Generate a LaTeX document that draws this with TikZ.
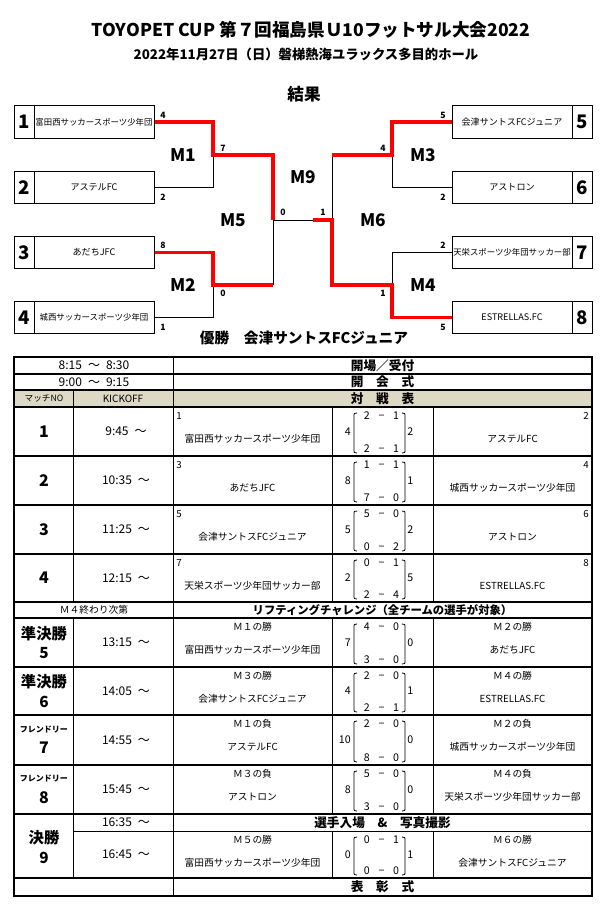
\documentclass[tikz,border=0pt]{standalone}
\usepackage{fontspec}
\setmainfont{Noto Sans CJK JP}
\usetikzlibrary{positioning}

\definecolor{headtan}{HTML}{DDD9C4}

\newcommand\fsz[1]{\fontsize{#1}{#1}\selectfont}
\def\splitpair#1-#2\relax{\makebox[11pt]{#1}\makebox[11pt]{−}\makebox[11pt]{#2}}
\newcommand\pairof[1]{\expandafter\splitpair#1\relax}

\tikzset{
  seed/.style={draw, line width=0.75pt, minimum width=15pt, minimum height=24.3pt, inner sep=0pt, font=\fsz{14}\bfseries},
  team/.style={draw, line width=0.75pt, minimum width=90pt, minimum height=24.3pt, inner sep=0pt, font=\fsz{6.3}},
  bline/.style={line width=0.75pt},
  rline/.style={line width=2.4pt, red},
  goals/.style={font=\fsz{6.5}\bfseries, inner sep=0pt},
  mlabel/.style={font=\fsz{13}\bfseries, inner sep=0pt},
  boldrule/.style={line width=1.5pt},
  thinrule/.style={line width=0.6pt},
  cell/.style={font=\fsz{7.3}, inner sep=0pt},
  timecell/.style={font=\fsz{9}, inner sep=0pt},
  banner/.style={font=\fsz{9.5}\bfseries, inner sep=0pt},
  score/.style={font=\fsz{8}, inner sep=0pt},
  matchno/.style={font=\fsz{12}\bfseries, inner sep=0pt, align=center}
}

\begin{document}
\begin{tikzpicture}[x=0.75pt, y=-0.75pt]
\useasboundingbox[fill=white] (0,0) rectangle (613,908);

% heading
\node[font=\fsz{13.2}\bfseries] (title) at (311,30) {TOYOPET CUP 第７回福島県Ｕ10フットサル大会2022};
\node[font=\fsz{10}\bfseries] (date) at (306,54) {2022年11月27日（日）磐梯熱海ユラックス多目的ホール};
\node[font=\fsz{12.5}\bfseries] (result) at (304,94) {結果};

% bracket
\foreach \i/\y/\name in {1/122/富田西サッカースポーツ少年団, 2/187.5/{\fsz{6.8}アステルFC}, 3/252.5/{\fsz{6.8}あだちJFC}, 4/317.5/城西サッカースポーツ少年団}{
  \node[seed] (s\i) at (24,\y) {\i};
  \node[team] (t\i) at (94,\y) {\name};
}
\foreach \i/\y/\name in {5/122/{\fsz{6.8}会津サントスFCジュニア}, 6/187.5/{\fsz{6.8}アストロン}, 7/252.5/天栄スポーツ少年団サッカー部, 8/317.5/{\fsz{6.8}ESTRELLAS.FC}}{
  \node[team] (t\i) at (512,\y) {\name};
  \node[seed] (s\i) at (582,\y) {\i};
}

\coordinate (m1) at (213,155);
\coordinate (m2) at (213,285);
\coordinate (m5) at (273,220);
\coordinate (m9) at (313,220);
\coordinate (m6) at (332,220);
\coordinate (m3) at (392,155);
\coordinate (m4) at (392,285);

\draw[bline] (t2.east) -| (m1);
\draw[bline] (t4.east) -| (m2);
\draw[bline] (m5 |- m2) -- (m5) -- (m9);
\draw[bline] (t6.west) -| (m3);
\draw[bline] (t7.west) -| (m4);
\draw[bline] (m6 |- m3) -- (m6);

\draw[rline] (t1.east) -| (m1) -| (m5);
\draw[rline] (t3.east) -| (m2) -- (m5 |- m2);
\draw[rline] (m9) -- (m6) -- (m6 |- m4) -- (m4) |- (t8.west);
\draw[rline] (t5.west) -| (m3) -- (m6 |- m3);

\node[goals] (g1) at (163,115) {4};
\node[goals] (g2) at (163,197) {2};
\node[goals] (g3) at (163,245) {8};
\node[goals] (g4) at (163,327) {1};
\node[goals] (g5) at (443,115) {5};
\node[goals] (g6) at (443,197) {2};
\node[goals] (g7) at (443,245) {2};
\node[goals] (g8) at (443,327) {5};
\node[goals] (g9) at (223,148) {7};
\node[goals] (g10) at (223,293) {0};
\node[goals] (g11) at (383,148) {4};
\node[goals] (g12) at (383,293) {1};
\node[goals] (g13) at (283,212) {0};
\node[goals] (g14) at (323,212) {1};

\node[mlabel] (M1) at (183,155) {M1};
\node[mlabel] (M2) at (183,285) {M2};
\node[mlabel] (M5) at (233,220) {M5};
\node[mlabel] (M9) at (303,177) {M9};
\node[mlabel] (M6) at (373,220) {M6};
\node[mlabel] (M3) at (423,155) {M3};
\node[mlabel] (M4) at (423,285) {M4};

\node[font=\fsz{11}\bfseries] (champ) at (304,338) {優勝　会津サントスFCジュニア};

% table
\fill[headtan] (14,390) rectangle (592,407);
\foreach \y in {374,390,407,456,505,554,602,618,667,715,765,814,878}
  \draw[boldrule] (14,\y) -- (592,\y);
\draw[thinrule] (73.5,390) -- (73.5,602) (73.5,618) -- (73.5,878);
\draw[thinrule] (173,357) -- (173,896);
\foreach \x in {332,433}
  \draw[thinrule] (\x,407) -- (\x,602) (\x,618) -- (\x,814) (\x,831) -- (\x,878);
\draw[thinrule] (73.5,831) -- (592,831);
\draw[boldrule] (14,357) rectangle (592,896);

\node[timecell] (open) at (94,365.5) {8:15\enspace～\enspace8:30};
\node[banner] (openb) at (382.5,365.5) {開場／受付};
\node[timecell] (cer) at (94,382) {9:00\enspace～\enspace9:15};
\node[banner] (cerb) at (382.5,382) {開　会　式};
\node[font=\fsz{6.5}, inner sep=0pt] (hno) at (44,398.5) {マッチNO};
\node[font=\fsz{7.5}, inner sep=0pt] (hko) at (123,398.5) {KICKOFF};
\node[banner] (hvs) at (382.5,398.5) {対　戦　表};
\node[font=\fsz{7.3}, inner sep=0pt] (lift) at (94,610) {Ｍ４終わり次第};
\node[font=\fsz{8.5}\bfseries, inner sep=0pt] (liftb) at (382.5,610) {リフティングチャレンジ（全チームの選手が対象）};
\node[timecell] (entry) at (126,822.5) {16:35\enspace～};
\node[banner] (entryb) at (382.5,822.5) {選手入場　\&　写真撮影};
\node[banner] (award) at (382.5,887) {表　彰　式};

% match rows
\foreach \r/\b/\t/\ta/\sa/\pa/\pb/\sb/\tb in {
  407/456/9:45/富田西サッカースポーツ少年団/4/2-1/2-1/2/アステルFC,
  456/505/10:35/あだちJFC/8/1-1/7-0/1/城西サッカースポーツ少年団,
  505/554/11:25/会津サントスFCジュニア/5/5-0/0-2/2/アストロン,
  554/602/12:15/天栄スポーツ少年団サッカー部/2/0-1/2-4/5/ESTRELLAS.FC,
  618/667/13:15/富田西サッカースポーツ少年団/7/4-0/3-0/0/あだちJFC,
  667/715/14:05/会津サントスFCジュニア/4/2-0/2-1/1/ESTRELLAS.FC,
  715/765/14:55/アステルFC/10/2-0/8-0/0/城西サッカースポーツ少年団,
  765/814/15:45/アストロン/8/5-0/3-0/0/天栄スポーツ少年団サッカー部,
  831/878/16:45/富田西サッカースポーツ少年団/0/0-1/0-0/1/会津サントスFCジュニア}{
  \node[timecell] (time\r) at (126,{(\r+\b)/2}) {\t\enspace～};
  \node[cell] (left\r) at (252.5,\r+32) {\ta};
  \node[cell] (right\r) at (512.5,\r+32) {\tb};
  \node[score] (up\r) at (381.5,\r+9) {\pairof{\pa}};
  \node[score] (down\r) at (381.5,\b-7) {\pairof{\pb}};
  \node[score, anchor=east] (sa\r) at (351,{(\r+\b)/2}) {\sa};
  \node[score, anchor=west] (sb\r) at (407,{(\r+\b)/2}) {\sb};
  \draw[thinrule] (357,\r+6) .. controls (354,\r+6) .. (354,\r+10) -- (354,\b-7) .. controls (354,\b-3) .. (357,\b-3);
  \draw[thinrule] (402,\r+6) .. controls (405,\r+6) .. (405,\r+10) -- (405,\b-7) .. controls (405,\b-3) .. (402,\b-3);
}

\foreach \r/\ia/\ib in {407/1/2, 456/3/4, 505/5/6, 554/7/8}{
  \node[cell, anchor=west] (ia\r) at (176,\r+9) {\ia};
  \node[cell, anchor=east] (ib\r) at (589,\r+9) {\ib};
}
\foreach \r/\ia/\ib in {618/Ｍ１の勝/Ｍ２の勝, 667/Ｍ３の勝/Ｍ４の勝, 715/Ｍ１の負/Ｍ２の負, 765/Ｍ３の負/Ｍ４の負, 831/Ｍ５の勝/Ｍ６の勝}{
  \node[cell] (ia\r) at (252.5,\r+9) {\ia};
  \node[cell] (ib\r) at (512.5,\r+9) {\ib};
}

\foreach \r/\n in {431.5/1, 480.5/2, 529.5/3, 578/4}
  \node[matchno] (no\n) at (44,\r) {\n};
\node[matchno, font=\fsz{11.5}\bfseries] (no5) at (44,642.5) {準決勝\\[3pt]5};
\node[matchno, font=\fsz{11.5}\bfseries] (no6) at (44,691) {準決勝\\[3pt]6};
\node[matchno] (no7) at (44,740) {{\fsz{6}フレンドリー}\\[4pt]7};
\node[matchno] (no8) at (44,789.5) {{\fsz{6}フレンドリー}\\[4pt]8};
\node[matchno, font=\fsz{11.5}\bfseries] (no9) at (44,847) {決勝\\[3pt]9};
\end{tikzpicture}
\end{document}
